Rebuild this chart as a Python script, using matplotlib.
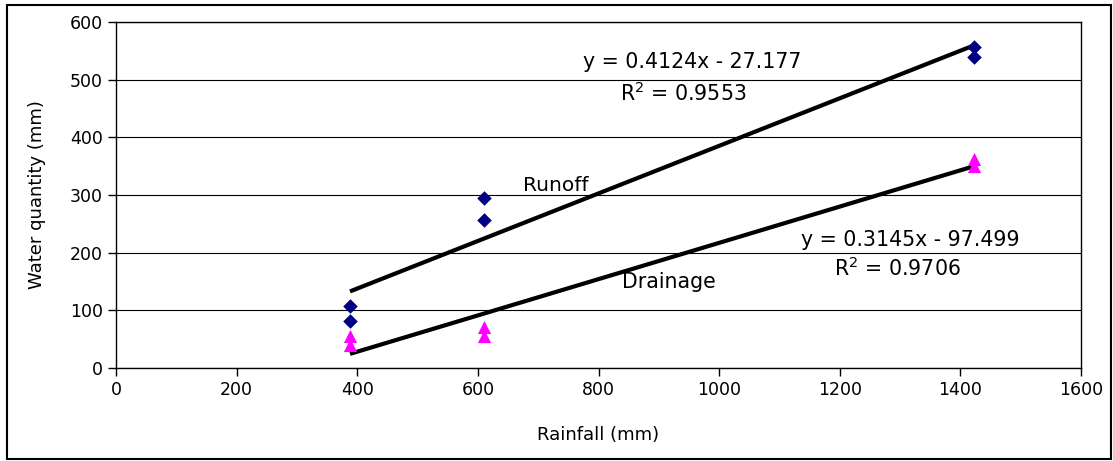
import matplotlib
matplotlib.use("Agg")
import matplotlib.pyplot as plt
import numpy as np
from matplotlib.patches import Rectangle

rain = [388, 388, 610, 610, 1422, 1422]
runoff = [107, 81, 295, 257, 556, 540]
drainage = [55, 40, 71, 56, 362, 350]
runoff_fit = (0.4124, -27.177)
drain_fit = (0.3145, -97.499)
fit_x = [388, 1422]

fig = plt.figure(figsize=(11.13, 4.61), dpi=100)
ax = fig.add_axes([116/1113, 1-368/461, (1081-116)/1113, (368-22)/461])

ax.set_xlim(0, 1600)
ax.set_ylim(0, 600)
ax.set_xticks(np.arange(0, 1601, 200))
ax.set_yticks(np.arange(0, 601, 100))
ax.yaxis.grid(True, color='black', linewidth=0.8)
ax.set_axisbelow(True)
for s in ax.spines.values():
    s.set_color('black'); s.set_linewidth(1.0)
ax.tick_params(direction='out', length=6, width=1, labelsize=12.5, color='black')

fx = np.array(fit_x)
ax.plot(fx, runoff_fit[0]*fx + runoff_fit[1], color='black', lw=3, solid_capstyle='butt', zorder=2)
ax.plot(fx, drain_fit[0]*fx + drain_fit[1], color='black', lw=3, solid_capstyle='butt', zorder=2)
ax.scatter(rain, runoff, marker='D', s=55, color='#000080', zorder=3, linewidths=0)
ax.scatter(rain, drainage, marker='^', s=90, color='#FF00FF', zorder=3, linewidths=0)

fs = 14.8
ax.text(955, 531, 'y = 0.4124x - 27.177', ha='center', va='center', fontsize=fs)
ax.text(940, 477, 'R$^2$ = 0.9553', ha='center', va='center', fontsize=fs)
ax.text(675, 317, 'Runoff', ha='left', va='center', fontsize=14.5)
ax.text(839, 149, 'Drainage', ha='left', va='center', fontsize=fs)
ax.text(1317, 222, 'y = 0.3145x - 97.499', ha='center', va='center', fontsize=fs)
ax.text(1295, 173, 'R$^2$ = 0.9706', ha='center', va='center', fontsize=fs)

ax.set_xlabel('Rainfall (mm)', fontsize=13, labelpad=19)
ax.set_ylabel('Water quantity (mm)', fontsize=13, labelpad=17)

fig.patches.append(Rectangle((7/1113, 1-459/461), (1111-7)/1113, (459-5)/461,
                             transform=fig.transFigure, fill=False, edgecolor='black', linewidth=1.5))
fig.savefig('out.png', dpi=100)
